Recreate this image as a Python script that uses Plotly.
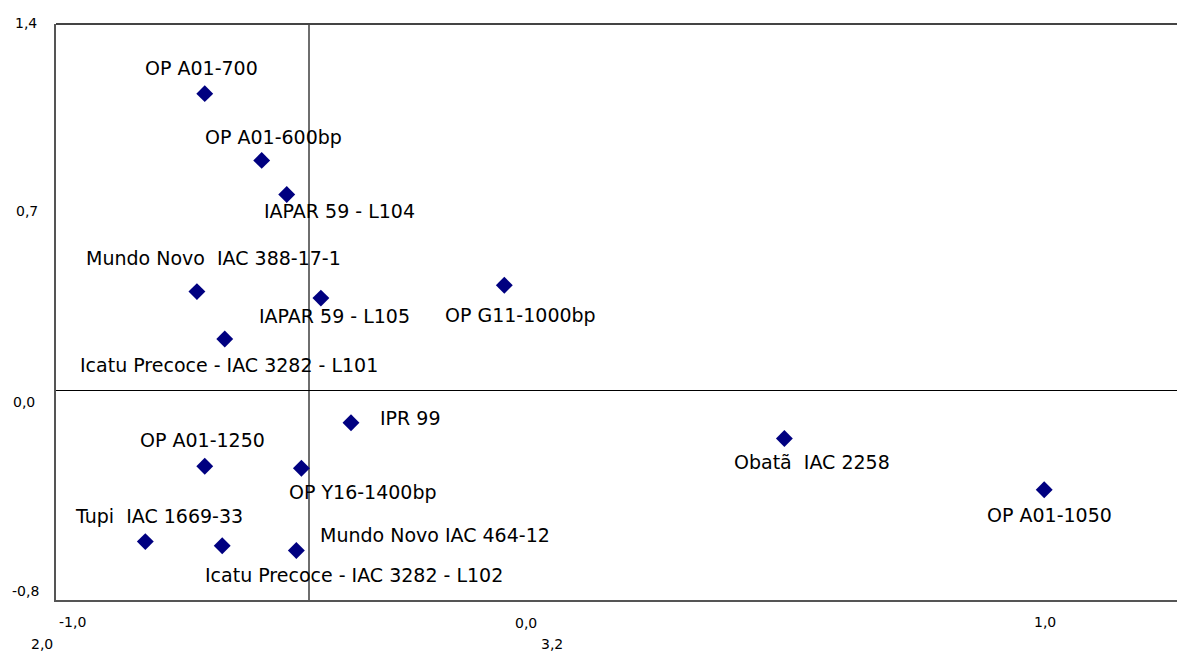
import plotly.graph_objects as go

# ---------------- data ----------------
NAMES = [
    "OP A01-700", "OP A01-600bp", "IAPAR 59 - L104", "Mundo Novo  IAC 388-17-1",
    "IAPAR 59 - L105", "OP G11-1000bp", "Icatu Precoce - IAC 3282 - L101", "IPR 99",
    "OP A01-1250", "OP Y16-1400bp", "Obatã  IAC 2258", "OP A01-1050",
    "Tupi  IAC 1669-33", "Icatu Precoce - IAC 3282 - L102", "Mundo Novo IAC 464-12",
]
PC1 = [-0.412, -0.187, -0.088, -0.443, 0.047, 0.772, -0.333, 0.166,
       -0.412, -0.030, 1.879, 2.906, -0.647, -0.343, -0.050]
PC2 = [1.134, 0.879, 0.749, 0.378, 0.353, 0.402, 0.197, -0.123,
       -0.289, -0.297, -0.183, -0.379, -0.577, -0.593, -0.611]

Y_TICK_TEXT = ["1,4", "0,7", "0,0", "-0,8"]
X_TICK_TEXT = ["-1,0", "0,0", "1,0"]
X_TICK_TEXT2 = ["2,0", "3,2"]

# ---------------- layout / style ----------------
PAGE = 8                      # default body margin of the html page
SCREEN_W, SCREEN_H = 1185, 651
W, H = SCREEN_W - PAGE, SCREEN_H - PAGE
ML, MT, MR = 56 - PAGE, 24 - PAGE, 0
MB = H - (600 - PAGE)
PW, PH = W - ML - MR, H - MT - MB
X_RANGE = [-1.0, 3.4625]
Y_RANGE = [-0.8, 1.4]
FONT = "DejaVu Sans"

# label offsets (pixels from marker centre to label's left/middle point; +dy = down)
LABEL_OFFSETS = [(-62, -26), (-59, -23), (-25, 17), (-113, -34), (-64, 18), (-61, 30),
                 (-147, 26), (27, -5), (-67, -26), (-14, 24), (-52, 24), (-59, 25),
                 (-72, -26), (-19, 29), (22, -16)]

# screen pixel positions of axis label text (centres)
Y_TICK_PX = [(26, 23), (27, 211), (24, 402), (25, 591)]
X_TICK_PX = [(72, 622), (526, 623), (1045, 622)]
X_TICK2_PX = [(42, 644), (552, 644)]


def px_to_paper(px, py):
    fx, fy = px - PAGE, py - PAGE
    return (fx - ML) / PW, (H - MB - fy) / PH


fig = go.Figure()
fig.add_trace(go.Scatter(
    x=PC1, y=PC2, mode="markers",
    marker=dict(symbol="diamond", size=13, color="#000080"),
    hoverinfo="text", text=NAMES, showlegend=False, cliponaxis=False,
))

annotations = []
for name, x, y, (dx, dy) in zip(NAMES, PC1, PC2, LABEL_OFFSETS):
    annotations.append(dict(
        x=x, y=y, xref="x", yref="y", text=name, showarrow=False,
        xanchor="left", yanchor="middle", xshift=dx, yshift=-dy,
        font=dict(family=FONT, size=19, color="#000000"),
    ))

for txt, (px, py) in zip(Y_TICK_TEXT, Y_TICK_PX):
    ax, ay = px_to_paper(px, py)
    annotations.append(dict(x=ax, y=ay, xref="paper", yref="paper", text=txt,
                            showarrow=False, xanchor="center", yanchor="middle",
                            font=dict(family=FONT, size=14, color="#000000")))
for txt, (px, py) in zip(X_TICK_TEXT + X_TICK_TEXT2, X_TICK_PX + X_TICK2_PX):
    ax, ay = px_to_paper(px, py)
    annotations.append(dict(x=ax, y=ay, xref="paper", yref="paper", text=txt,
                            showarrow=False, xanchor="center", yanchor="middle",
                            font=dict(family=FONT, size=14, color="#000000")))

fig.update_layout(
    width=W, height=H,
    margin=dict(l=ML, r=MR, t=MT, b=MB, pad=0),
    paper_bgcolor="white", plot_bgcolor="white",
    font=dict(family=FONT, size=14, color="#000000"),
    xaxis=dict(range=X_RANGE, showgrid=False, showticklabels=False, ticks="",
               zeroline=True, zerolinecolor="#6e6e6e", zerolinewidth=1.5,
               showline=True, linecolor="#555555", linewidth=2, mirror=False,
               fixedrange=True),
    yaxis=dict(range=Y_RANGE, showgrid=False, showticklabels=False, ticks="",
               zeroline=True, zerolinecolor="#000000", zerolinewidth=1,
               showline=True, linecolor="#555555", linewidth=1.5, mirror=False,
               fixedrange=True),
    shapes=[dict(type="line", xref="paper", yref="paper", x0=0, x1=1, y0=1, y1=1,
                 line=dict(color="#444444", width=2))],
    annotations=annotations,
)

fig.write_html("out.html")
